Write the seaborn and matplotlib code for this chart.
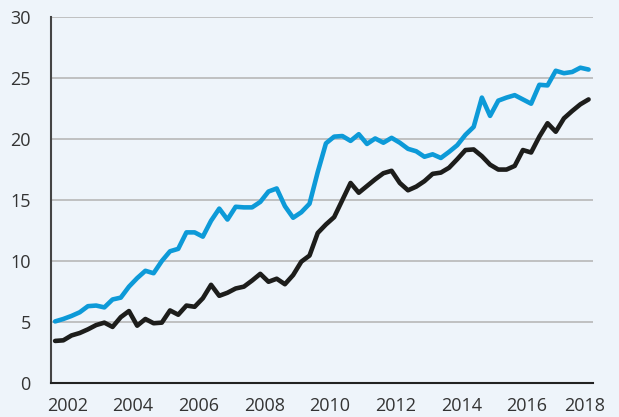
import numpy as np
import pandas as pd
import seaborn as sns
import matplotlib.pyplot as plt
from matplotlib.ticker import FixedLocator, NullFormatter, FixedFormatter

# quarterly points, 2002 Q1 .. 2018 Q2 (mid-quarter positions)
quarters = [2002.125 + 0.25 * i for i in range(66)]

blue_vals = [5.05, 5.25, 5.5, 5.8, 6.3, 6.35, 6.2, 6.85,
             7.0, 7.9, 8.6, 9.2, 9.0, 10.0, 10.8, 11.0,
             12.35, 12.35, 12.0, 13.3, 14.3, 13.4, 14.45, 14.4,
             14.4, 14.85, 15.7, 15.95, 14.5, 13.55, 14.0, 14.7,
             17.3, 19.65, 20.2, 20.25, 19.85, 20.4, 19.6, 20.05,
             19.7, 20.1, 19.7, 19.2, 19.0, 18.55, 18.75, 18.45,
             18.95, 19.5, 20.35, 21.0, 23.4, 21.9, 23.15, 23.4,
             23.6, 23.25, 22.9, 24.45, 24.4, 25.6, 25.4, 25.5,
             25.85, 25.7]

black_vals = [3.45, 3.5, 3.9, 4.1, 4.4, 4.75, 4.95, 4.6,
              5.4, 5.9, 4.7, 5.25, 4.9, 4.95, 5.95, 5.6,
              6.35, 6.25, 6.95, 8.05, 7.15, 7.4, 7.75, 7.9,
              8.4, 8.95, 8.3, 8.55, 8.1, 8.85, 9.95, 10.45,
              12.3, 13.0, 13.6, 15.0, 16.4, 15.6, 16.15, 16.7,
              17.2, 17.4, 16.4, 15.8, 16.1, 16.55, 17.15, 17.25,
              17.65, 18.35, 19.1, 19.15, 18.6, 17.9, 17.5, 17.5,
              17.8, 19.1, 18.9, 20.2, 21.3, 20.6, 21.7, 22.3,
              22.85, 23.25]

year_ticks = list(range(2002, 2019))
label_pos = [y + 0.5 for y in range(2002, 2017, 2)] + [2018.25]
label_txt = [str(y) for y in range(2002, 2019, 2)]

df = pd.DataFrame({
    "t": quarters * 2,
    "v": blue_vals + black_vals,
    "series": ["blue"] * 66 + ["black"] * 66,
})

bg = "#eef4fa"
sns.set_style("white")
plt.rcParams["font.family"] = ["Open Sans", "DejaVu Sans"]

fig = plt.figure(figsize=(6.19, 4.17), dpi=100, facecolor=bg)
ax = fig.add_axes([0.0824, 0.0815, 0.8756, 0.8775])
ax.set_facecolor(bg)

sns.lineplot(data=df, x="t", y="v", hue="series",
             palette={"blue": "#0d9ad8", "black": "#1d1d1b"},
             linewidth=3.3, legend=False, ax=ax, zorder=3,
             solid_capstyle="round", solid_joinstyle="round")

ax.set_xlim(2002, 2018.51)
ax.set_ylim(0, 30)
ax.set_xlabel("")
ax.set_ylabel("")

ax.set_yticks(range(0, 31, 5))
ax.yaxis.grid(True, color="#bcbcbc", linewidth=1.3)
ax.set_axisbelow(True)

ax.xaxis.set_major_locator(FixedLocator(year_ticks))
ax.xaxis.set_major_formatter(NullFormatter())
ax.xaxis.set_minor_locator(FixedLocator(label_pos))
ax.xaxis.set_minor_formatter(FixedFormatter(label_txt))

ax.tick_params(axis="x", which="major", direction="inout", length=9,
               width=1.3, color="#222222")
ax.tick_params(axis="x", which="minor", length=0, pad=10,
               labelsize=13, labelcolor="#333333")
ax.tick_params(axis="y", direction="inout", length=11, width=1.3,
               color="#333333", pad=9, labelsize=13, labelcolor="#333333")

for s in ["top", "right"]:
    ax.spines[s].set_visible(False)
ax.spines["left"].set_color("#444444")
ax.spines["left"].set_linewidth(1.5)
ax.spines["bottom"].set_color("#222222")
ax.spines["bottom"].set_linewidth(1.5)

fig.savefig("out.png", dpi=100, facecolor=bg)
